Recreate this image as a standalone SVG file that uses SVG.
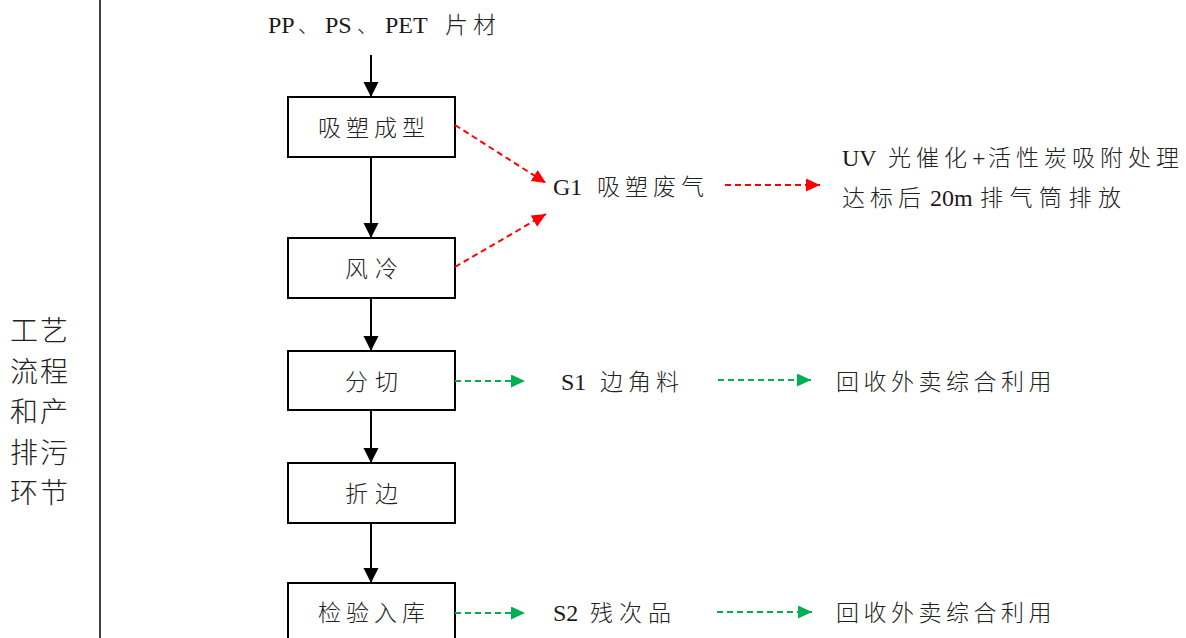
<svg xmlns="http://www.w3.org/2000/svg" width="1186" height="638" viewBox="0 0 1186 638">
<style>
text{font-family:"Liberation Serif","Noto Sans CJK SC",serif;font-size:24px;fill:#1a1a1a}
.c{font-family:"Noto Sans CJK SC","Liberation Serif",sans-serif;font-size:23px;font-weight:300;letter-spacing:5px;fill:#222}
.side{font-size:28px;letter-spacing:2px}
.dun{font-size:20px;letter-spacing:0}
.box{fill:#fff;stroke:#000;stroke-width:2}
.flow{stroke:#000;stroke-width:2;fill:none}
.red{stroke:#f00;stroke-width:2;fill:none;stroke-dasharray:6 4}
.grn{stroke:#00b050;stroke-width:2;fill:none;stroke-dasharray:6 4}
</style>
<defs>
<marker id="ab" markerUnits="userSpaceOnUse" markerWidth="16" markerHeight="16" refX="15" refY="7.5" orient="auto"><path d="M0,0L15,7.5L0,15z" fill="#000"/></marker>
<marker id="ar" markerUnits="userSpaceOnUse" markerWidth="16" markerHeight="16" refX="14" refY="6.5" orient="auto"><path d="M0,0L14,6.5L0,13z" fill="#f00"/></marker>
<marker id="ag" markerUnits="userSpaceOnUse" markerWidth="16" markerHeight="16" refX="14" refY="6.5" orient="auto"><path d="M0,0L14,6.5L0,13z" fill="#00b050"/></marker>
</defs>
<line x1="100" y1="0" x2="100" y2="638" stroke="#000" stroke-width="1.5"/>
<g id="side-label">
<text class="c side" x="10" y="341">工艺</text>
<text class="c side" x="10" y="381.5">流程</text>
<text class="c side" x="10" y="422">和产</text>
<text class="c side" x="10" y="462.5">排污</text>
<text class="c side" x="10" y="503">环节</text>
</g>
<g id="input"><text y="33"><tspan x="268">PP</tspan><tspan class="c dun" x="298">、</tspan><tspan x="325">PS</tspan><tspan class="c dun" x="357">、</tspan><tspan x="385">PET</tspan><tspan class="c" x="445">片材</tspan></text></g>
<g id="n1"><rect class="box" x="288" y="97" width="167" height="60"/><text class="c" x="318" y="135.5">吸塑成型</text></g>
<g id="n2"><rect class="box" x="288" y="238" width="167" height="60"/><text class="c" style="letter-spacing:7px" x="345" y="276.5">风冷</text></g>
<g id="n3"><rect class="box" x="288" y="351" width="167" height="59"/><text class="c" style="letter-spacing:7px" x="345" y="389.5">分切</text></g>
<g id="n4"><rect class="box" x="288" y="463" width="167" height="60"/><text class="c" style="letter-spacing:7px" x="345" y="501.5">折边</text></g>
<g id="n5"><rect class="box" x="288" y="583" width="167" height="70"/><text class="c" x="318" y="621">检验入库</text></g>
<g id="g1"><text y="194.5"><tspan x="553">G1</tspan><tspan class="c" x="597">吸塑废气</tspan></text></g>
<g id="g1-treat">
<text y="166"><tspan x="842">UV</tspan><tspan class="c" x="888">光催化</tspan><tspan x="972">+</tspan><tspan class="c" x="988">活性炭吸附处理</tspan></text>
<text y="206"><tspan class="c" x="842">达标后</tspan><tspan x="930">20m</tspan><tspan class="c" style="letter-spacing:6.5px" x="980">排气筒排放</tspan></text>
</g>
<g id="s1"><text y="389.5"><tspan x="561">S1</tspan><tspan class="c" x="600">边角料</tspan></text></g>
<g id="s1-treat"><text class="c" style="letter-spacing:4.5px" x="836" y="389.5">回收外卖综合利用</text></g>
<g id="s2"><text y="621"><tspan x="553">S2</tspan><tspan class="c" style="letter-spacing:6px" x="590">残次品</tspan></text></g>
<g id="s2-treat"><text class="c" style="letter-spacing:4.5px" x="836" y="621">回收外卖综合利用</text></g>
<g id="connectors">
<line class="flow" x1="371" y1="55" x2="371" y2="97" marker-end="url(#ab)"/>
<line class="flow" x1="371" y1="157" x2="371" y2="238" marker-end="url(#ab)"/>
<line class="flow" x1="371" y1="298" x2="371" y2="351" marker-end="url(#ab)"/>
<line class="flow" x1="371" y1="410" x2="371" y2="463" marker-end="url(#ab)"/>
<line class="flow" x1="371" y1="523" x2="371" y2="583" marker-end="url(#ab)"/>
<line class="red" x1="455" y1="125" x2="546" y2="183" marker-end="url(#ar)"/>
<line class="red" x1="455" y1="267" x2="546" y2="214" marker-end="url(#ar)"/>
<line class="red" x1="725" y1="185" x2="820" y2="185" marker-end="url(#ar)"/>
<line class="grn" x1="455" y1="381" x2="525" y2="381" marker-end="url(#ag)"/>
<line class="grn" x1="718" y1="380" x2="811" y2="380" marker-end="url(#ag)"/>
<line class="grn" x1="455" y1="613" x2="525" y2="613" marker-end="url(#ag)"/>
<line class="grn" x1="717" y1="612" x2="812" y2="612" marker-end="url(#ag)"/>
</g>
</svg>
